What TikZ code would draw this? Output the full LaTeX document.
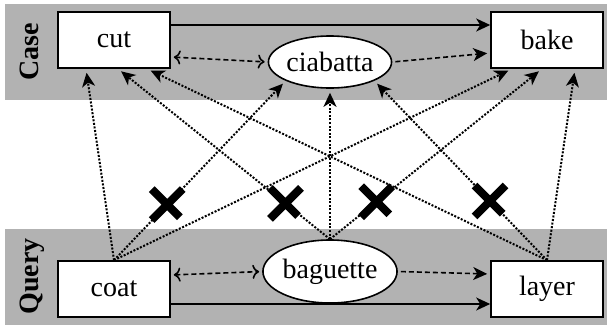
\documentclass[tikz,border=0pt]{standalone}
\usepackage{fontspec}
\setmainfont{Liberation Serif}
\usetikzlibrary{arrows.meta,shapes.geometric,shapes.misc}

\tikzset{
  band/.style={fill=black!30, minimum width=301pt, minimum height=48pt, inner sep=0pt},
  task/.style={draw, thick, fill=white, minimum width=56pt, minimum height=28pt,
    inner sep=0pt, font=\fontsize{14}{16}\selectfont},
  dish/.style={ellipse, draw, thick, fill=white, minimum width=56pt, minimum height=26pt,
    inner sep=0pt, font=\fontsize{14}{16}\selectfont},
  rowlabel/.style={rotate=90, inner sep=0pt, font=\fontsize{14}{16}\selectfont\bfseries},
  flow/.style={-{Stealth[length=7pt,width=6.5pt,inset=2pt]}, thick},
  link/.style={flow, dash pattern=on 2.5pt off 1.5pt, shorten <=1.5pt, shorten >=1.5pt},
  match/.style={-{Stealth[length=7pt,width=6.5pt,inset=2pt]}, line width=1pt,
    dash pattern=on 1pt off 0.8pt, shorten >=2pt},
  nomatch/.style={cross out, draw, solid, line width=4pt, minimum size=11.5pt, inner sep=0pt}
}

\begin{document}
\begin{tikzpicture}[x=0.5pt, y=-0.5pt]
  \useasboundingbox (0,0) rectangle (611,327);

  % bands
  \node[band] (caseband) at (306,52) {};
  \node[band] (queryband) at (306,276.5) {};
  \node[rowlabel, anchor=north] (caselabel) at ([xshift=7.5pt]caseband.west) {Case};
  \node[rowlabel, anchor=north] (querylabel) at ([xshift=7.5pt]queryband.west) {Query};

  % case row
  \node[task] (cut) at (114,40) {cut};
  \node[task] (bake) at (547,40) {bake};
  \node[dish] (ciabatta) at (330,62) {ciabatta};

  % query row
  \node[task] (coat) at (114,289) {coat};
  \node[task] (layer) at (547,289) {layer};
  \node[dish, minimum height=31.5pt] (baguette) at (330,271.5) {baguette};

  % sequence
  \draw[flow] ([yshift=7.5pt]cut.east) -- ([yshift=7.5pt]bake.west);
  \draw[flow] ([yshift=-7.5pt]coat.east) -- ([yshift=-7.5pt]layer.west);
  \draw[link, <->] ([yshift=-8.5pt]cut.east) -- (ciabatta.west);
  \draw[link] (ciabatta.east) -- ([yshift=-6.5pt]bake.west);
  \draw[link, <->] ([yshift=7pt]coat.east) -- (baguette.west);
  \draw[link] (baguette.east) -- ([yshift=7.5pt]layer.west);

  % matches
  \draw[match] (coat.north) -- ([xshift=-14pt]cut.south);
  \draw[match] (coat.north) -- node[nomatch, pos=.31] (x1) {} (ciabatta.203);
  \draw[match] (coat.north) -- ([xshift=-17.5pt]bake.south);
  \draw[match] (baguette.north) -- node[nomatch, pos=.21] (x2) {} ([xshift=2pt]cut.south);
  \draw[match] (baguette.north) -- (ciabatta.south);
  \draw[match] (baguette.north) -- node[nomatch, pos=.22] (x3) {} ([xshift=-2.5pt]bake.south);
  \draw[match] (layer.north) -- ([xshift=16.5pt]cut.south);
  \draw[match] (layer.north) -- node[nomatch, pos=.33] (x4) {} (ciabatta.337);
  \draw[match] (layer.north) -- ([xshift=14pt]bake.south);
\end{tikzpicture}
\end{document}
